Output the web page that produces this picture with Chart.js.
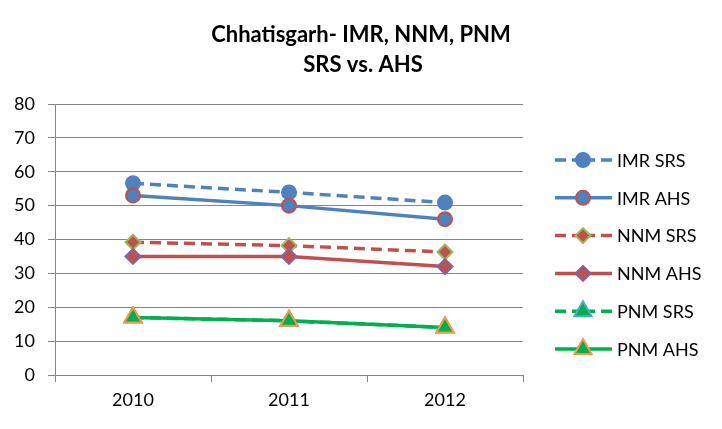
<!DOCTYPE html>
<html>
<head>
<meta charset="utf-8">
<script src="https://cdn.jsdelivr.net/npm/chart.js@4/dist/chart.umd.min.js"></script>
<style>
  html, body { margin: 0; padding: 0; background: #fff; }
  #wrap { width: 722px; height: 429px; }
</style>
</head>
<body>
<div id="wrap"><canvas id="myChart" width="722" height="429"></canvas></div>
<script>
// values
const years = ['2010', '2011', '2012'];
const imrSrs = [56.6, 53.9, 50.9];
const imrAhs = [53, 50, 46];
const nnmSrs = [39.2, 38.2, 36.3];
const nnmAhs = [35, 35, 32];
const pnmSrs = [17, 16, 14];
const pnmAhs = [17, 16, 14];
const seriesNames = ['IMR SRS', 'IMR AHS', 'NNM SRS', 'NNM AHS', 'PNM SRS', 'PNM AHS'];
const titleLines = ['Chhatisgarh- IMR, NNM, PNM', 'SRS vs. AHS'];

const blue = '#4F81BD', red = '#C0504D', green = '#00B050';
const FONT = 'Lato, "Open Sans", sans-serif';

function series(i, values, line, dashed, style, fill, edge, radius) {
  return {
    label: seriesNames[i],
    data: values,
    borderColor: line,
    borderWidth: 3.5,
    borderDash: dashed ? [11, 6] : [],
    tension: 0,
    pointStyle: style,
    pointRadius: radius,
    pointHoverRadius: radius,
    pointBackgroundColor: fill,
    pointBorderColor: edge,
    pointBorderWidth: 2,
    order: 6 - i
  };
}

// title over the whole picture, legend on the right (line + marker, then the name)
const chartText = {
  id: 'chartText',
  afterDraw(chart) {
    const ctx = chart.ctx;
    ctx.save();
    ctx.fillStyle = '#000';
    ctx.textAlign = 'center';
    ctx.textBaseline = 'middle';
    ctx.font = 'bold 22px ' + FONT;
    ctx.fillText(titleLines[0], 361, 35);
    ctx.fillText(titleLines[1], 363, 65);
    ctx.restore();

    chart.data.datasets.forEach(function(ds, i) {
      const y = 160 + i * 37.8;
      ctx.save();
      ctx.strokeStyle = ds.borderColor;
      ctx.lineWidth = 3.5;
      if (ds.borderDash.length) {
        ctx.setLineDash([11, 6]);
        ctx.beginPath();
        ctx.moveTo(555, y); ctx.lineTo(583, y);
        ctx.moveTo(612, y); ctx.lineTo(583, y);
        ctx.stroke();
      } else {
        ctx.beginPath();
        ctx.moveTo(555, y); ctx.lineTo(612, y);
        ctx.stroke();
      }
      ctx.setLineDash([]);
      ctx.fillStyle = ds.pointBackgroundColor;
      ctx.strokeStyle = ds.pointBorderColor;
      ctx.lineWidth = ds.pointBorderWidth;
      Chart.helpers.drawPoint(ctx, {
        pointStyle: ds.pointStyle, radius: ds.pointRadius, rotation: 0, borderWidth: ds.pointBorderWidth
      }, 583, y);
      ctx.fillStyle = '#000';
      ctx.font = '18px ' + FONT;
      ctx.textBaseline = 'middle';
      ctx.textAlign = 'left';
      ctx.fillText(ds.label, 617, y + 1);
      ctx.restore();
    });
  }
};

var ctx = document.getElementById('myChart').getContext('2d');
var chart = new Chart(ctx, {
  type: 'line',
  data: {
    labels: years,
    datasets: [
      series(0, imrSrs, blue, true, 'circle', blue, blue, 7),
      series(1, imrAhs, blue, false, 'circle', blue, red, 7),
      series(2, nnmSrs, red, true, 'rectRot', red, '#9BBB59', 7.5),
      series(3, nnmAhs, red, false, 'rectRot', red, '#8064A2', 7.5),
      series(4, pnmSrs, green, true, 'triangle', green, '#4BACC6', 10),
      series(5, pnmAhs, green, false, 'triangle', green, '#F79646', 10)
    ]
  },
  options: {
    responsive: false,
    animation: false,
    events: [],
    layout: { padding: { left: 0, right: 199, top: 104, bottom: 0 } },
    plugins: {
      legend: { display: false },
      tooltip: { enabled: false },
      title: { display: false }
    },
    scales: {
      x: {
        offset: true,
        afterFit: function(scale) { scale.height = 54; },
        grid: { drawOnChartArea: false, drawTicks: true, tickLength: 7, offset: true, color: '#868686' },
        border: { color: '#868686', width: 1 },
        ticks: { color: '#000', padding: 7, font: { family: FONT, size: 18 } }
      },
      y: {
        min: 0,
        max: 80,
        afterFit: function(scale) { scale.width = 55; },
        grid: { color: '#868686', tickLength: 7 },
        border: { color: '#868686', width: 1 },
        ticks: { stepSize: 10, color: '#000', padding: 13, font: { family: FONT, size: 18 } }
      }
    }
  },
  plugins: [chartText]
});
</script>
</body>
</html>
